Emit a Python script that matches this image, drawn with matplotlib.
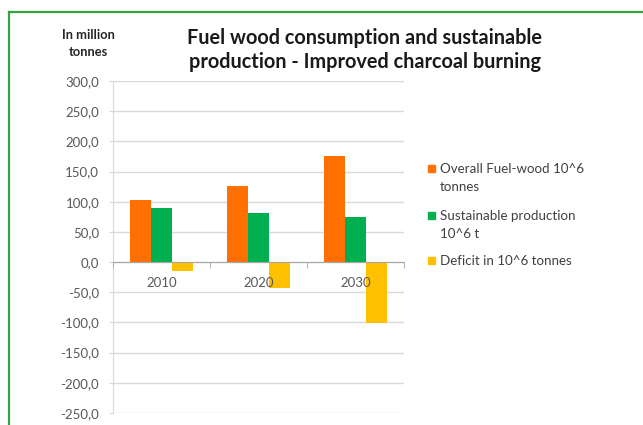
import numpy as np
import matplotlib
matplotlib.use("Agg")
import matplotlib.pyplot as plt
from matplotlib.lines import Line2D
from matplotlib.patches import Rectangle
from matplotlib.ticker import FuncFormatter

years = ['2010', '2020', '2030']
overall_fuelwood = [102.5, 125.5, 175.5]
sustainable_prod = [89.0, 82.0, 74.0]
deficit = [-14.5, -43.5, -101.5]
series_labels = ['Overall Fuel-wood 10^6\ntonnes',
                 'Sustainable production\n10^6 t',
                 'Deficit in 10^6 tonnes']
colors = ['#FF7000', '#00B050', '#FFC000']

plt.rcParams['font.family'] = ['Lato', 'DejaVu Sans']

W, H = 643, 425
fig = plt.figure(figsize=(W / 100, H / 100), dpi=100)

# plot area in pixels: x 113..404, y 81..413
ax = fig.add_axes([113 / W, 1 - 413 / H, (404 - 113) / W, (413 - 81) / H])

x = np.arange(len(years))
bw = 0.217
for i, vals in enumerate([overall_fuelwood, sustainable_prod, deficit]):
    ax.bar(x + (i - 1) * bw, vals, bw, color=colors[i], zorder=2)

ax.set_xlim(-0.5, len(years) - 0.5)
ax.set_ylim(-250, 300)
ax.set_yticks(np.arange(-250, 301, 50))
ax.yaxis.set_major_formatter(FuncFormatter(lambda v, p: f"{v:.1f}".replace('.', ',')))
ax.yaxis.grid(True, color='#D9D9D9', lw=1)
ax.set_axisbelow(True)
ax.xaxis.set_zorder(3)  # year labels sit on top of the deficit bars

for s in ['top', 'right']:
    ax.spines[s].set_visible(False)
ax.spines['left'].set_color('#D9D9D9')
ax.spines['bottom'].set_position(('data', 0))
ax.spines['bottom'].set_color('#A6A6A6')

ax.set_xticks(x)
ax.set_xticklabels(years)
ax.set_xticks(np.arange(-0.5, len(years), 1), minor=True)
ax.tick_params(axis='x', which='major', length=0, pad=11, labelsize=9.5, labelcolor='#595959')
ax.tick_params(axis='x', which='minor', length=4, color='#A6A6A6')
ax.tick_params(axis='y', length=3, color='#D9D9D9', pad=7, labelsize=9.5, labelcolor='#595959')

fig.text(365 / W, 1 - 50.5 / H,
         'Fuel wood consumption and sustainable\nproduction - Improved charcoal burning',
         ha='center', va='center', fontsize=14.3, weight='bold', color='#1A1A1A', linespacing=1.25)
fig.text(88 / W, 1 - 43.5 / H, 'In million\ntonnes', ha='center', va='center',
         fontsize=9.3, weight='bold', color='#262626', linespacing=1.45)

# legend drawn by hand so the marker sits on the first text line
leg_y = [168, 215, 260]
for i, lab in enumerate(series_labels):
    fig.add_artist(Rectangle((428 / W, 1 - (leg_y[i] + 3.5) / H), 7 / W, 7 / H,
                             transform=fig.transFigure, color=colors[i]))
    for j, line in enumerate(lab.split('\n')):
        fig.text(440 / W, 1 - (leg_y[i] + 1 + 18 * j) / H, line, ha='left', va='center',
                 fontsize=9.6, color='#404040')

# green frame, cut off at right and bottom
fig.add_artist(Line2D([9 / W, 1], [1 - 12 / H, 1 - 12 / H], color='#35A244', lw=1.6))
fig.add_artist(Line2D([9 / W, 9 / W], [1 - 12 / H, 0], color='#35A244', lw=1.6))

fig.savefig('out.png', dpi=100)
